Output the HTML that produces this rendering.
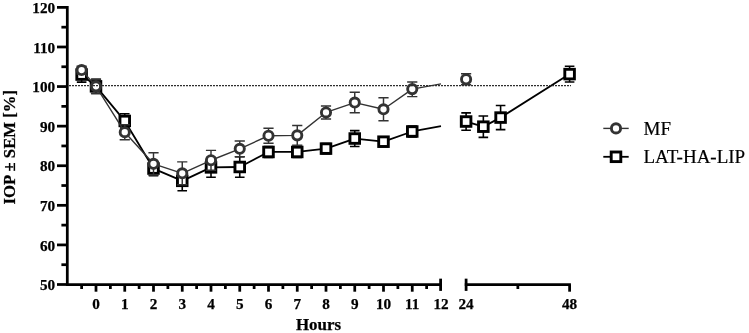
<!DOCTYPE html>
<html lang="en"><head><meta charset="utf-8"><title>IOP chart</title>
<style>html,body{margin:0;padding:0;background:#fff;}svg{display:block;}text{font-family:"Liberation Serif","Times New Roman",serif;fill:#000;}.t{font-weight:bold;font-size:15.2px;stroke:#000;stroke-width:0.25px;}.ti{font-weight:bold;font-size:16.9px;stroke:#000;stroke-width:0.25px;}.lg{font-size:19px;stroke:#000;stroke-width:0.2px;}</style>
</head><body>
<svg width="749" height="333" viewBox="0 0 749 333">
<rect width="749" height="333" fill="#fff"/>
<g stroke="#000" stroke-width="2.75" fill="none" stroke-linecap="butt">
<line x1="67.3" y1="6.02" x2="67.3" y2="285.88"/>
<line x1="57.00" y1="284.50" x2="67.30" y2="284.50"/>
<line x1="61.40" y1="264.71" x2="67.30" y2="264.71"/>
<line x1="57.00" y1="244.91" x2="67.30" y2="244.91"/>
<line x1="61.40" y1="225.12" x2="67.30" y2="225.12"/>
<line x1="57.00" y1="205.33" x2="67.30" y2="205.33"/>
<line x1="61.40" y1="185.53" x2="67.30" y2="185.53"/>
<line x1="57.00" y1="165.74" x2="67.30" y2="165.74"/>
<line x1="61.40" y1="145.95" x2="67.30" y2="145.95"/>
<line x1="57.00" y1="126.15" x2="67.30" y2="126.15"/>
<line x1="61.40" y1="106.36" x2="67.30" y2="106.36"/>
<line x1="57.00" y1="86.56" x2="67.30" y2="86.56"/>
<line x1="61.40" y1="66.77" x2="67.30" y2="66.77"/>
<line x1="57.00" y1="46.98" x2="67.30" y2="46.98"/>
<line x1="61.40" y1="27.18" x2="67.30" y2="27.18"/>
<line x1="57.00" y1="7.39" x2="67.30" y2="7.39"/>
<line x1="66.00" y1="284.50" x2="441.90" y2="284.50"/>
<line x1="464.80" y1="284.50" x2="570.90" y2="284.50"/>
<line x1="81.62" y1="284.50" x2="81.62" y2="289.00"/>
<line x1="96.00" y1="284.50" x2="96.00" y2="291.70"/>
<line x1="110.38" y1="284.50" x2="110.38" y2="289.00"/>
<line x1="124.75" y1="284.50" x2="124.75" y2="291.70"/>
<line x1="139.12" y1="284.50" x2="139.12" y2="289.00"/>
<line x1="153.50" y1="284.50" x2="153.50" y2="291.70"/>
<line x1="167.88" y1="284.50" x2="167.88" y2="289.00"/>
<line x1="182.25" y1="284.50" x2="182.25" y2="291.70"/>
<line x1="196.62" y1="284.50" x2="196.62" y2="289.00"/>
<line x1="211.00" y1="284.50" x2="211.00" y2="291.70"/>
<line x1="225.38" y1="284.50" x2="225.38" y2="289.00"/>
<line x1="239.75" y1="284.50" x2="239.75" y2="291.70"/>
<line x1="254.12" y1="284.50" x2="254.12" y2="289.00"/>
<line x1="268.50" y1="284.50" x2="268.50" y2="291.70"/>
<line x1="282.88" y1="284.50" x2="282.88" y2="289.00"/>
<line x1="297.25" y1="284.50" x2="297.25" y2="291.70"/>
<line x1="311.62" y1="284.50" x2="311.62" y2="289.00"/>
<line x1="326.00" y1="284.50" x2="326.00" y2="291.70"/>
<line x1="340.38" y1="284.50" x2="340.38" y2="289.00"/>
<line x1="354.75" y1="284.50" x2="354.75" y2="291.70"/>
<line x1="369.12" y1="284.50" x2="369.12" y2="289.00"/>
<line x1="383.50" y1="284.50" x2="383.50" y2="291.70"/>
<line x1="397.88" y1="284.50" x2="397.88" y2="289.00"/>
<line x1="412.25" y1="284.50" x2="412.25" y2="291.70"/>
<line x1="426.62" y1="284.50" x2="426.62" y2="289.00"/>
<line x1="440.60" y1="278.65" x2="440.60" y2="290.90"/>
<line x1="466.10" y1="278.65" x2="466.10" y2="290.90"/>
<line x1="517.85" y1="284.50" x2="517.85" y2="289.00"/>
<line x1="569.60" y1="284.50" x2="569.60" y2="291.70"/>
</g>
<g class="t" text-anchor="end">
<text x="55.1" y="290.20">50</text>
<text x="55.1" y="250.61">60</text>
<text x="55.1" y="211.03">70</text>
<text x="55.1" y="171.44">80</text>
<text x="55.1" y="131.85">90</text>
<text x="55.1" y="92.27">100</text>
<text x="55.1" y="52.68">110</text>
<text x="55.1" y="13.09">120</text>
</g>
<g class="t" text-anchor="middle">
<text x="96.00" y="309">0</text>
<text x="124.75" y="309">1</text>
<text x="153.50" y="309">2</text>
<text x="182.25" y="309">3</text>
<text x="211.00" y="309">4</text>
<text x="239.75" y="309">5</text>
<text x="268.50" y="309">6</text>
<text x="297.25" y="309">7</text>
<text x="326.00" y="309">8</text>
<text x="354.75" y="309">9</text>
<text x="383.50" y="309">10</text>
<text x="412.25" y="309">11</text>
<text x="441.00" y="309">12</text>
<text x="466.10" y="309">24</text>
<text x="569.60" y="309">48</text>
</g>
<text class="ti" text-anchor="middle" x="318.5" y="330">Hours</text>
<text class="ti" style="font-size:16.7px" text-anchor="middle" transform="translate(14.6 147.2) rotate(-90)">IOP ± SEM [%]</text>
<g stroke="#000000" fill="none">
<polyline points="81.62,74.57 96.00,86.35 124.75,120.94 153.50,168.57 182.25,180.83 211.00,167.39 239.75,166.99 268.50,151.97 297.25,151.97 326.00,148.61 354.75,138.53 383.50,141.69 412.25,131.49 441.00,126.17" stroke-width="1.8" stroke-linejoin="round"/>
<polyline points="466.10,121.53 483.35,126.67 500.60,117.58 569.60,74.10" stroke-width="1.8" stroke-linejoin="round"/>
</g>
<g stroke="#000000" stroke-width="1.6" fill="none">
<path d="M81.62 67.06V82.08M76.83 67.06h9.6M76.83 82.08h9.6M96.00 79.23V93.47M91.20 79.23h9.6M91.20 93.47h9.6M124.75 113.82V128.05M119.95 113.82h9.6M119.95 128.05h9.6M153.50 161.46V175.69M148.70 161.46h9.6M148.70 175.69h9.6M182.25 170.94V190.71M177.45 170.94h9.6M177.45 190.71h9.6M211.00 157.50V177.27M206.20 157.50h9.6M206.20 177.27h9.6M239.75 156.71V177.27M234.95 156.71h9.6M234.95 177.27h9.6M268.50 146.44V157.50M263.70 146.44h9.6M263.70 157.50h9.6M297.25 146.44V157.50M292.45 146.44h9.6M292.45 157.50h9.6M326.00 143.47V153.75M321.20 143.47h9.6M321.20 153.75h9.6M354.75 130.62V146.44M349.95 130.62h9.6M349.95 146.44h9.6M383.50 136.75V146.63M378.70 136.75h9.6M378.70 146.63h9.6M412.25 125.96V137.03M407.45 125.96h9.6M407.45 137.03h9.6M466.10 112.84V130.23M461.30 112.84h9.6M461.30 130.23h9.6M483.35 116.00V137.34M478.55 116.00h9.6M478.55 137.34h9.6M500.60 105.52V129.64M495.80 105.52h9.6M495.80 129.64h9.6M569.60 66.19V82.00M564.80 66.19h9.6M564.80 82.00h9.6"/>
</g>
<g stroke="#000000" stroke-width="2.9" fill="#fff">
<rect x="76.83" y="69.77" width="9.6" height="9.6"/>
<rect x="91.20" y="81.55" width="9.6" height="9.6"/>
<rect x="119.95" y="116.14" width="9.6" height="9.6"/>
<rect x="148.70" y="163.77" width="9.6" height="9.6"/>
<rect x="177.45" y="176.03" width="9.6" height="9.6"/>
<rect x="206.20" y="162.59" width="9.6" height="9.6"/>
<rect x="234.95" y="162.19" width="9.6" height="9.6"/>
<rect x="263.70" y="147.17" width="9.6" height="9.6"/>
<rect x="292.45" y="147.17" width="9.6" height="9.6"/>
<rect x="321.20" y="143.81" width="9.6" height="9.6"/>
<rect x="349.95" y="133.73" width="9.6" height="9.6"/>
<rect x="378.70" y="136.89" width="9.6" height="9.6"/>
<rect x="407.45" y="126.69" width="9.6" height="9.6"/>
<rect x="461.30" y="116.73" width="9.6" height="9.6"/>
<rect x="478.55" y="121.87" width="9.6" height="9.6"/>
<rect x="495.80" y="112.78" width="9.6" height="9.6"/>
<rect x="564.80" y="69.30" width="9.6" height="9.6"/>
</g>
<g stroke="#333333" fill="none">
<polyline points="81.62,70.06 96.00,86.35 124.75,132.20 153.50,163.83 182.25,173.32 211.00,160.27 239.75,148.81 268.50,135.76 297.25,135.37 326.00,112.44 354.75,102.56 383.50,109.28 412.25,89.12 441.00,83.84" stroke-width="1.4" stroke-linejoin="round"/>
</g>
<g stroke="#333333" stroke-width="1.45" fill="none">
<path d="M81.62 66.11V74.02M76.53 66.11h10.2M76.53 74.02h10.2M96.00 79.23V93.47M90.90 79.23h10.2M90.90 93.47h10.2M124.75 124.69V139.72M119.65 124.69h10.2M119.65 139.72h10.2M153.50 152.76V174.90M148.40 152.76h10.2M148.40 174.90h10.2M182.25 161.85V184.78M177.15 161.85h10.2M177.15 184.78h10.2M211.00 150.39V170.15M205.90 150.39h10.2M205.90 170.15h10.2M239.75 140.90V156.71M234.65 140.90h10.2M234.65 156.71h10.2M268.50 128.25V143.27M263.40 128.25h10.2M263.40 143.27h10.2M297.25 125.48V145.25M292.15 125.48h10.2M292.15 145.25h10.2M326.00 105.92V118.96M320.90 105.92h10.2M320.90 118.96h10.2M354.75 92.28V112.84M349.65 92.28h10.2M349.65 112.84h10.2M383.50 97.81V120.74M378.40 97.81h10.2M378.40 120.74h10.2M412.25 82.00V96.63M407.15 82.00h10.2M407.15 96.63h10.2M466.10 73.70V84.77M461.00 73.70h10.2M461.00 84.77h10.2"/>
</g>
<g stroke="#333333" stroke-width="2.9" fill="#fff">
<circle cx="81.62" cy="70.06" r="4.60"/>
<circle cx="96.00" cy="86.35" r="4.60"/>
<circle cx="124.75" cy="132.20" r="4.60"/>
<circle cx="153.50" cy="163.83" r="4.60"/>
<circle cx="182.25" cy="173.32" r="4.60"/>
<circle cx="211.00" cy="160.27" r="4.60"/>
<circle cx="239.75" cy="148.81" r="4.60"/>
<circle cx="268.50" cy="135.76" r="4.60"/>
<circle cx="297.25" cy="135.37" r="4.60"/>
<circle cx="326.00" cy="112.44" r="4.60"/>
<circle cx="354.75" cy="102.56" r="4.60"/>
<circle cx="383.50" cy="109.28" r="4.60"/>
<circle cx="412.25" cy="89.12" r="4.60"/>
<circle cx="466.10" cy="79.23" r="4.60"/>
</g>
<line x1="69" y1="85.6" x2="571" y2="85.6" stroke="#2e2e2e" stroke-width="1.2" stroke-dasharray="2 1"/>
<line x1="603.3" y1="128.4" x2="628.7" y2="128.4" stroke="#333333" stroke-width="1.4"/>
<circle cx="616" cy="128.4" r="4.6" fill="#fff" stroke="#333333" stroke-width="2.9"/>
<line x1="603.3" y1="156.8" x2="628.7" y2="156.8" stroke="#000" stroke-width="1.8"/>
<rect x="611.2" y="152.0" width="9.6" height="9.6" fill="#fff" stroke="#000" stroke-width="2.9"/>
<text class="lg" x="643.5" y="134.6">MF</text>
<text class="lg" x="643.5" y="163.3">LAT-HA-LIP</text>
</svg>
</body></html>
